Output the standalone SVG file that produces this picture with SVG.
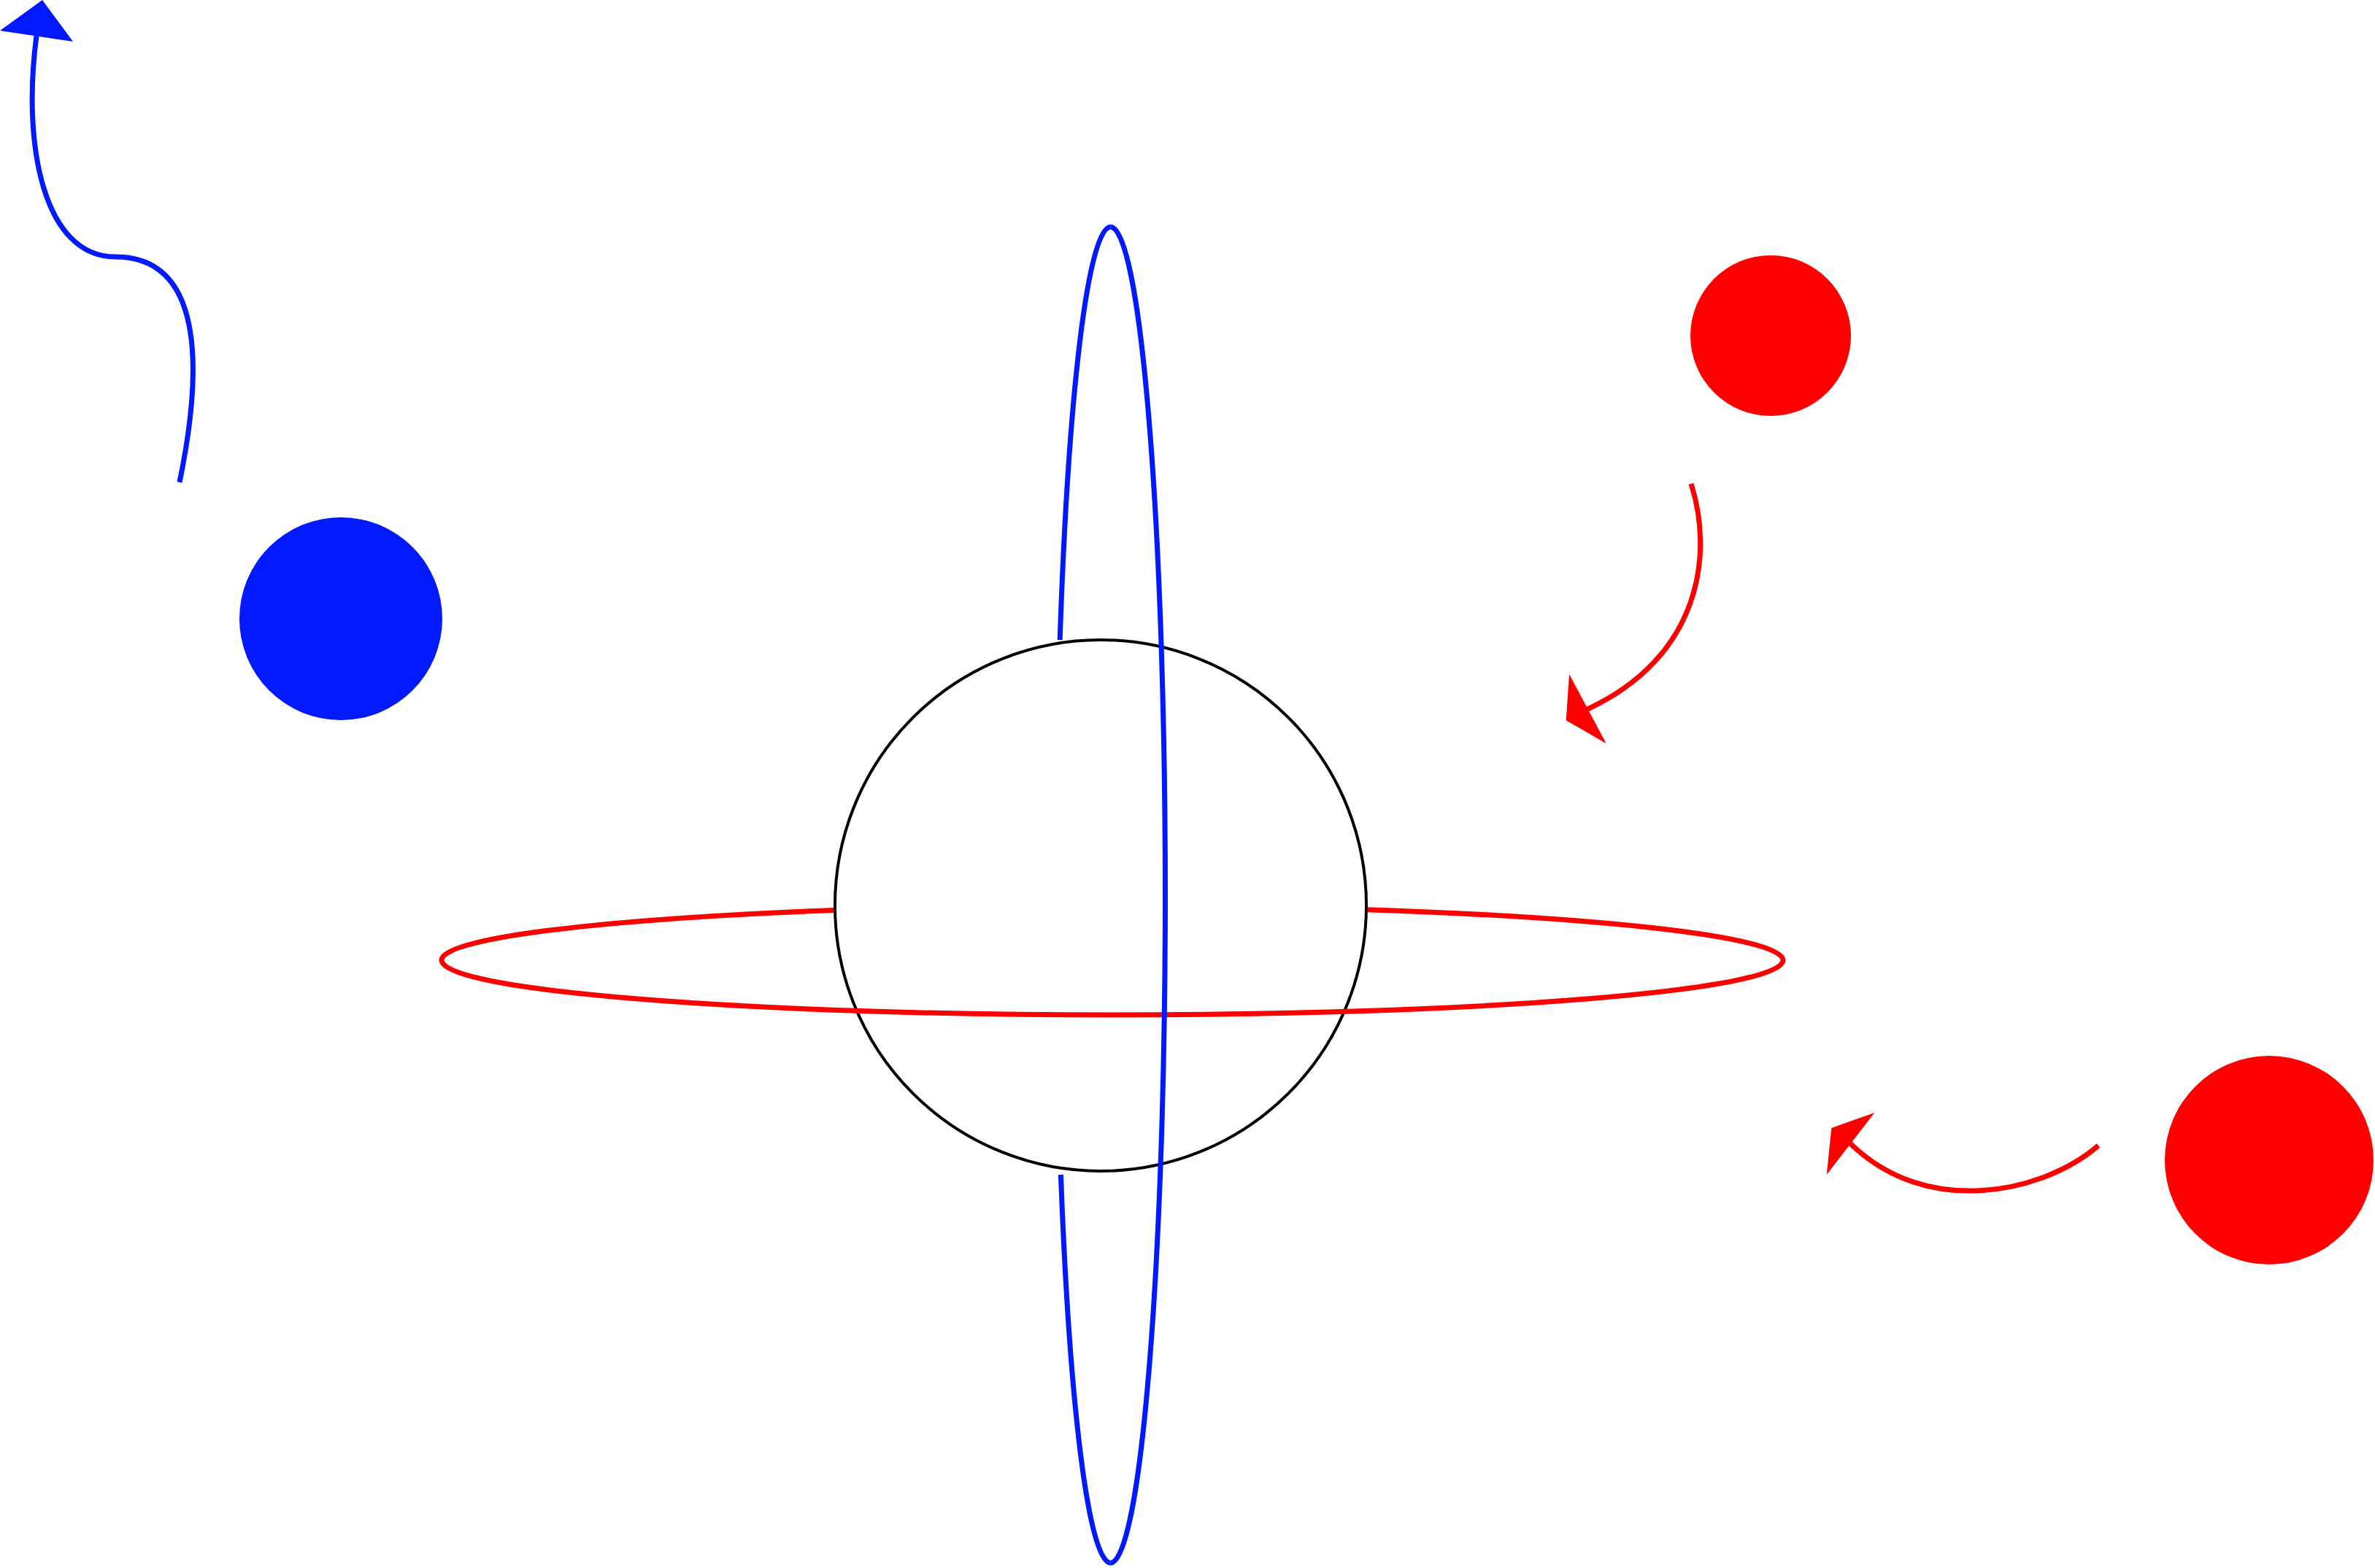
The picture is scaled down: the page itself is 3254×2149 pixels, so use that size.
<svg xmlns="http://www.w3.org/2000/svg" width="3254" height="2149" viewBox="0 0 3254 2149">
<style>
.bg{fill:#ffffff}
.red{fill:none;stroke:#ff0000;stroke-width:7}
.blue{fill:none;stroke:#0019ff;stroke-width:7}
.redfill{fill:#ff0000;stroke:none}
.bluefill{fill:#0019ff;stroke:none}
.sphere{fill:none;stroke:#000000;stroke-width:4}
</style>
<rect class="bg" x="0" y="0" width="3254" height="2149"/>
<g id="orbit-red-back">
<path class="red" d="M605,1316 A919,75 0 0 1 1143,1247.6"/>
<path class="red" d="M1873,1246.7 A919,75 0 0 1 2443,1316"/>
</g>
<g id="orbit-blue-back">
<path class="blue" d="M1452.2,877 A75,915.5 0 0 1 1521.5,311"/>
<path class="blue" d="M1521.5,2142 A75,915.5 0 0 1 1453.4,1610"/>
</g>
<g id="sphere">
<circle class="sphere" cx="1508" cy="1241" r="364"/>
</g>
<g id="orbit-red-front">
<path class="red" d="M2443,1316 A919,75 0 0 1 605,1316"/>
</g>
<g id="orbit-blue-front">
<path class="blue" d="M1521.5,311 A75,915.5 0 0 1 1521.5,2142"/>
</g>
<g id="ball-blue">
<circle class="bluefill" cx="467" cy="848" r="139"/>
</g>
<g id="ball-red-small">
<circle class="redfill" cx="2426" cy="460" r="110"/>
</g>
<g id="ball-red-large">
<circle class="redfill" cx="3109" cy="1590" r="143"/>
</g>
<g id="connectors">
<g id="arrow-blue">
<path class="blue" d="M246,661 C275,520 285,352 158,352 C60,352 30,200 50,49"/>
<polygon class="bluefill" points="0,42 58,0 100,57"/>
</g>
<g id="arrow-red-1">
<path class="red" d="M2317,663 C2348,760 2330,900 2175,972"/>
<polygon class="redfill" points="2150,924 2145.7,987.3 2200.7,1019"/>
</g>
<g id="arrow-red-2">
<path class="red" d="M2875,1570 C2800,1635 2640,1670 2535,1567"/>
<polygon class="redfill" points="2509.3,1546 2568.3,1525 2502.7,1610"/>
</g>
</g>
</svg>
